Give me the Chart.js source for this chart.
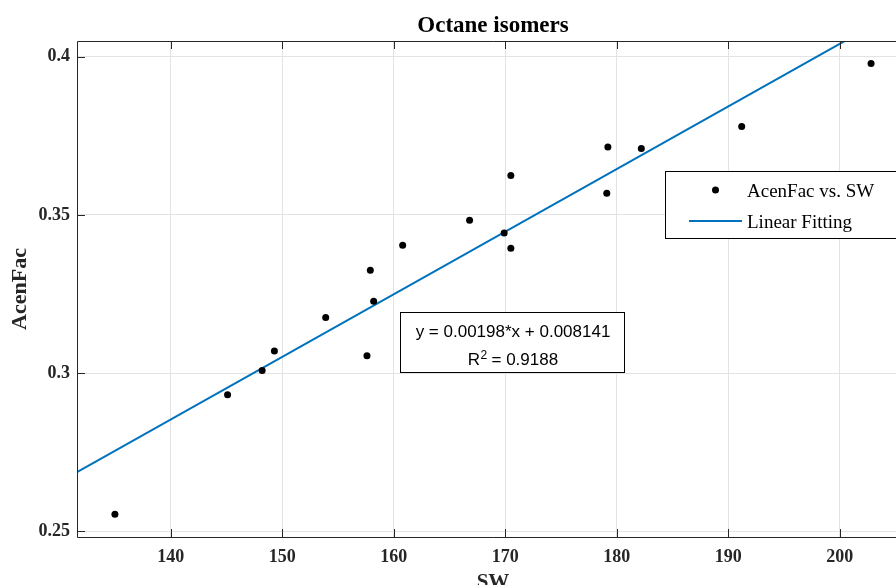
<!DOCTYPE html>
<html>
<head>
<meta charset="utf-8">
<script src="https://cdn.jsdelivr.net/npm/chart.js@4.4.0/dist/chart.umd.min.js"></script>
<style>
  html, body { margin: 0; padding: 0; background: #fff; overflow: hidden; }
  /* axes run past the right edge of the window, like the cropped figure */
  #wrap { position: absolute; left: 0; top: 0; width: 930px; height: 585px; }
</style>
</head>
<body>
<div id="wrap"><canvas id="chart"></canvas></div>
<script>
// --- data ---
const swValues   = [135.0, 145.1, 148.2, 149.3, 153.9, 157.6, 158.2, 157.9, 160.8,
                    166.8, 169.9, 170.5, 170.5, 179.2, 179.1, 182.2, 191.2, 202.8];
const acenValues = [0.2554, 0.2932, 0.3008, 0.3070, 0.3176, 0.3055, 0.3227, 0.3325, 0.3404,
                    0.3483, 0.3443, 0.3395, 0.3625, 0.3715, 0.3569, 0.3710, 0.3780, 0.3979];
const fitX = [131.6, 206.2];
const fitY = [0.2687, 0.4164];
const xTicks = [140, 150, 160, 170, 180, 190, 200];
const yTicks = [0.25, 0.3, 0.35, 0.4];
const yTickLabels = ["0.25", "0.3", "0.35", "0.4"];
const xRange = [131.6, 206.2];
const yRange = [0.2482, 0.4050];
const seriesNames = ["AcenFac vs. SW", "Linear Fitting"];
const eqLine = "y = 0.00198*x + 0.008141";
const r2Value = "0.9188";

const SERIF = '"Liberation Serif", "Times New Roman", serif';
const SANS = '"Liberation Sans", Arial, sans-serif';
const AXIS_COLOR = "#262626";
const FIT_COLOR = "#0072BD";

// frame, inward ticks, titles, legend and equation box
const decorations = {
    id: "decorations",
    afterDraw(chart) {
        const ctx = chart.ctx;
        const a = chart.chartArea;
        const xs = chart.scales.x, ys = chart.scales.y;
        ctx.save();

        // axes box
        ctx.strokeStyle = AXIS_COLOR;
        ctx.lineWidth = 1;
        ctx.beginPath();
        ctx.moveTo(a.right, a.top + 0.5); ctx.lineTo(a.left + 0.5, a.top + 0.5);
        ctx.lineTo(a.left + 0.5, a.bottom + 0.5); ctx.lineTo(a.right, a.bottom + 0.5);
        ctx.stroke();

        // inward ticks
        ctx.beginPath();
        xTicks.forEach(v => {
            const px = Math.round(xs.getPixelForValue(v)) + 0.5;
            ctx.moveTo(px, a.bottom); ctx.lineTo(px, a.bottom - 8);
            ctx.moveTo(px, a.top); ctx.lineTo(px, a.top + 8);
        });
        yTicks.forEach(v => {
            const py = Math.round(ys.getPixelForValue(v)) + 0.5;
            ctx.moveTo(a.left, py); ctx.lineTo(a.left + 8, py);
        });
        ctx.stroke();

        // title and axis labels
        const cx = (a.left + a.right) / 2;
        ctx.fillStyle = "#000";
        ctx.textAlign = "center";
        ctx.textBaseline = "alphabetic";
        ctx.font = "bold 23px " + SERIF;
        ctx.fillText("Octane isomers", cx, 32);

        ctx.fillStyle = AXIS_COLOR;
        ctx.font = "bold 21px " + SERIF;
        ctx.fillText("SW", cx, 588);

        ctx.save();
        ctx.translate(20, (a.top + a.bottom) / 2);
        ctx.rotate(-Math.PI / 2);
        ctx.textBaseline = "middle";
        ctx.font = "bold 22px " + SERIF;
        ctx.fillText("AcenFac", 0, 0);
        ctx.restore();

        // legend
        ctx.fillStyle = "#fff";
        ctx.fillRect(665.5, 171.5, 300, 67);
        ctx.strokeStyle = "#000";
        ctx.strokeRect(665.5, 171.5, 300, 67);
        ctx.fillStyle = "#000";
        ctx.beginPath();
        ctx.arc(715.5, 190, 3.5, 0, Math.PI * 2);
        ctx.fill();
        ctx.strokeStyle = FIT_COLOR;
        ctx.lineWidth = 2;
        ctx.beginPath();
        ctx.moveTo(689, 221); ctx.lineTo(742, 221);
        ctx.stroke();
        ctx.fillStyle = "#000";
        ctx.textAlign = "left";
        ctx.textBaseline = "alphabetic";
        ctx.font = "19px " + SERIF;
        ctx.fillText(seriesNames[0], 747, 197);
        ctx.fillText(seriesNames[1], 747, 228);

        // equation box
        ctx.lineWidth = 1;
        ctx.fillStyle = "#fff";
        ctx.fillRect(400.5, 312.5, 224, 60);
        ctx.strokeStyle = "#000";
        ctx.strokeRect(400.5, 312.5, 224, 60);
        ctx.fillStyle = "#000";
        ctx.textAlign = "center";
        ctx.font = "17px " + SANS;
        ctx.fillText(eqLine, 513, 337);
        const rest = " = " + r2Value;
        const wR = ctx.measureText("R").width;
        const wRest = ctx.measureText(rest).width;
        ctx.font = "12px " + SANS;
        const w2 = ctx.measureText("2").width;
        const x0 = 513 - (wR + w2 + wRest) / 2;
        ctx.textAlign = "left";
        ctx.font = "17px " + SANS;
        ctx.fillText("R", x0, 365);
        ctx.fillText(rest, x0 + wR + w2, 365);
        ctx.font = "12px " + SANS;
        ctx.fillText("2", x0 + wR + 0.5, 358.5);

        ctx.restore();
    }
};

const tickFont = { family: SERIF, size: 18, weight: "bold" };

new Chart(document.getElementById("chart"), {
    type: "scatter",
    data: {
        datasets: [
            {
                label: seriesNames[0],
                data: swValues.map((x, i) => ({ x: x, y: acenValues[i] })),
                backgroundColor: "#000",
                borderColor: "#000",
                pointRadius: 3.5,
                pointBorderWidth: 0
            },
            {
                label: seriesNames[1],
                data: fitX.map((x, i) => ({ x: x, y: fitY[i] })),
                showLine: true,
                borderColor: FIT_COLOR,
                borderWidth: 2,
                pointRadius: 0
            }
        ]
    },
    options: {
        responsive: true,
        maintainAspectRatio: false,
        animation: false,
        layout: { padding: { left: 0, top: 41, right: 21, bottom: 0 } },
        plugins: { legend: { display: false }, tooltip: { enabled: false }, title: { display: false } },
        scales: {
            x: {
                type: "linear",
                min: xRange[0],
                max: xRange[1],
                afterBuildTicks: s => { s.ticks = xTicks.map(v => ({ value: v })); },
                afterFit: s => { s.height = 48; },
                grid: { color: "#e3e3e3", drawTicks: false },
                border: { display: false },
                ticks: { font: tickFont, color: AXIS_COLOR, padding: 10, maxRotation: 0 }
            },
            y: {
                type: "linear",
                min: yRange[0],
                max: yRange[1],
                afterBuildTicks: s => { s.ticks = yTicks.map(v => ({ value: v })); },
                afterFit: s => { s.width = 77; },
                grid: { color: "#e3e3e3", drawTicks: false },
                border: { display: false },
                ticks: {
                    font: tickFont, color: AXIS_COLOR, padding: 7,
                    callback: v => { const i = yTicks.indexOf(v); return i >= 0 ? yTickLabels[i] : ""; }
                }
            }
        }
    },
    plugins: [decorations]
});
</script>
</body>
</html>
